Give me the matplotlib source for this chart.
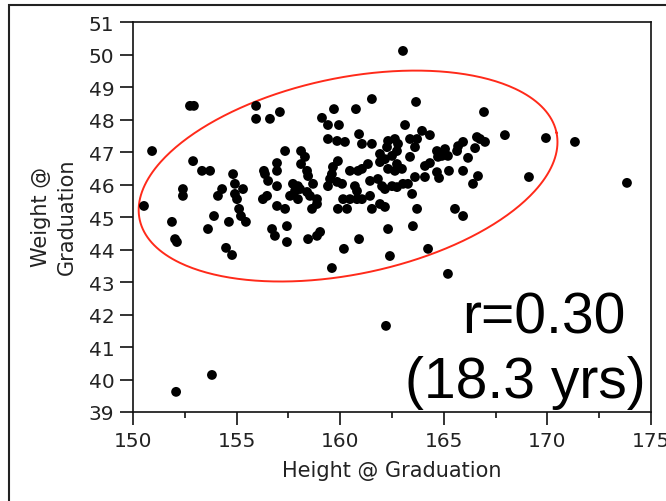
import numpy as np
import matplotlib
matplotlib.use("Agg")
import matplotlib.pyplot as plt
from matplotlib.patches import Rectangle

height = [150.53,150.92,152.75,152.94,151.88,152.03,152.12,152.41,152.41,152.90,
          153.33,153.72,153.62,153.91,154.30,154.10,154.63,154.49,154.78,154.83,
          154.92,155.31,154.92,155.02,155.12,155.21,155.45,155.94,155.94,156.32,
          156.27,153.81,152.08,156.61,157.09,159.70,160.76,159.12,159.41,159.94,
          159.41,159.85,160.23,160.91,161.05,157.34,158.11,158.30,156.95,156.95,
          158.11,158.40,158.45,159.89,159.65,159.60,159.51,160.47,160.86,161.05,
          156.37,156.52,156.95,157.72,157.96,158.06,157.82,157.58,157.96,158.40,
          158.69,158.54,158.88,158.88,158.64,159.41,159.85,160.09,160.71,160.81,
          160.14,160.47,160.81,161.05,159.89,160.33,156.95,157.34,156.71,156.85,
          157.43,157.43,158.45,158.88,159.03,160.18,160.91,156.47,159.60,161.53,
          163.66,163.13,161.53,162.31,162.64,162.79,162.26,162.74,163.37,163.71,
          163.95,164.33,163.61,164.67,164.72,161.92,161.92,162.16,162.50,162.74,
          162.31,162.64,162.98,163.37,161.34,164.09,164.33,164.09,164.67,164.77,
          161.44,161.82,162.02,162.16,162.50,162.74,163.03,163.27,163.61,161.44,
          163.47,161.53,161.92,162.16,163.71,162.31,163.51,162.40,164.24,163.03,
          166.94,167.95,166.60,166.75,166.99,165.93,165.69,165.64,165.06,165.20,
          164.91,166.51,166.17,165.25,165.93,166.65,166.41,169.11,165.54,165.93,
          169.93,171.33,173.84,165.20,162.21]
weight = [45.34,47.03,48.42,48.42,44.85,44.32,44.23,45.86,45.65,46.72,
          46.42,46.42,44.63,45.03,45.86,45.65,44.85,44.05,43.83,46.32,
          46.02,45.86,45.71,45.55,45.25,45.03,44.85,48.42,48.02,46.42,
          45.55,40.14,39.62,48.02,48.23,48.32,48.32,48.05,47.83,47.83,
          47.40,47.34,47.31,47.55,47.25,47.03,47.03,46.85,46.66,46.42,
          46.63,46.42,46.26,46.72,46.54,46.32,46.17,46.42,46.42,46.48,
          46.32,46.11,45.95,46.02,45.95,45.86,45.80,45.65,45.55,45.77,
          46.02,45.65,45.55,45.40,45.25,45.95,46.08,46.02,45.95,45.80,
          45.55,45.55,45.55,45.55,45.25,45.25,45.34,45.25,44.63,44.42,
          44.72,44.23,44.32,44.42,44.54,44.02,44.32,45.65,43.43,48.63,
          48.54,47.83,47.25,47.34,47.40,47.25,47.15,47.03,47.40,47.40,
          47.65,47.52,47.15,47.03,46.85,46.94,46.69,46.78,46.88,46.63,
          46.48,46.42,46.48,46.85,46.63,46.57,46.66,46.23,46.38,46.20,
          46.11,46.17,45.95,45.86,45.95,45.92,46.02,46.02,46.23,45.65,
          45.71,45.25,45.40,45.31,45.25,44.63,44.72,43.80,44.02,50.11,
          48.23,47.52,47.46,47.40,47.31,47.31,47.18,47.03,47.09,46.88,
          46.88,47.12,46.82,46.42,46.42,46.26,46.02,46.23,45.25,45.03,
          47.43,47.31,46.05,43.25,41.65]

x_ticks = [150, 155, 160, 165, 170, 175]
y_ticks = list(range(39, 52))

# density ellipse parameters (data units)
ell_center = (160.38, 46.26)
ell_x_coef = (10.06, 0.965)
ell_y_coef = (1.334, -2.958)

fig = plt.figure(figsize=(6.66, 5.02), dpi=100)
ax = fig.add_axes([133/666, 1-413/502, (651-133)/666, (413-23)/502])

ax.scatter(height, weight, s=50, color='black', edgecolors='none', zorder=3)

t = np.linspace(0, 2*np.pi, 400)
ex = ell_center[0] + ell_x_coef[0]*np.cos(t) + ell_x_coef[1]*np.sin(t)
ey = ell_center[1] + ell_y_coef[0]*np.cos(t) + ell_y_coef[1]*np.sin(t)
ax.plot(ex, ey, color='#ff2a1a', lw=1.4, zorder=2)

ax.set_xlim(150, 175)
ax.set_ylim(39, 51)
ax.set_xticks(x_ticks)
ax.set_xticks([152.5, 157.5, 162.5, 167.5, 172.5], minor=True)
ax.set_yticks(y_ticks)
ax.tick_params(axis='both', which='major', length=9.5, width=1.2, labelsize=14.5,
               color='#111111', labelcolor='#222222', pad=4)
ax.tick_params(axis='x', which='minor', length=4.5, width=1.2, color='#111111')
for s in ax.spines.values():
    s.set_linewidth(1.2)
    s.set_color('#111111')

ax.text(173.79, 41.46, 'r=0.30', fontsize=41, family='Liberation Sans',
        ha='right', va='baseline', color='black')
ax.text(174.76, 39.46, '(18.3 yrs)', fontsize=41, family='Liberation Sans',
        ha='right', va='baseline', color='black')

fig.text(392/666, 1-471/502, 'Height @ Graduation', fontsize=15, ha='center',
         va='center', color='#222222')
fig.text(54/666, 1-217/502, 'Weight @\nGraduation', fontsize=15, ha='center',
         va='center', rotation=90, multialignment='center', linespacing=1.35,
         color='#222222')

fig.add_artist(Rectangle((9/666, -0.2), 1.0, 1-6/502+0.2, transform=fig.transFigure,
                         fill=False, lw=1.5, edgecolor='#222222'))

fig.savefig('out.png', dpi=100)
